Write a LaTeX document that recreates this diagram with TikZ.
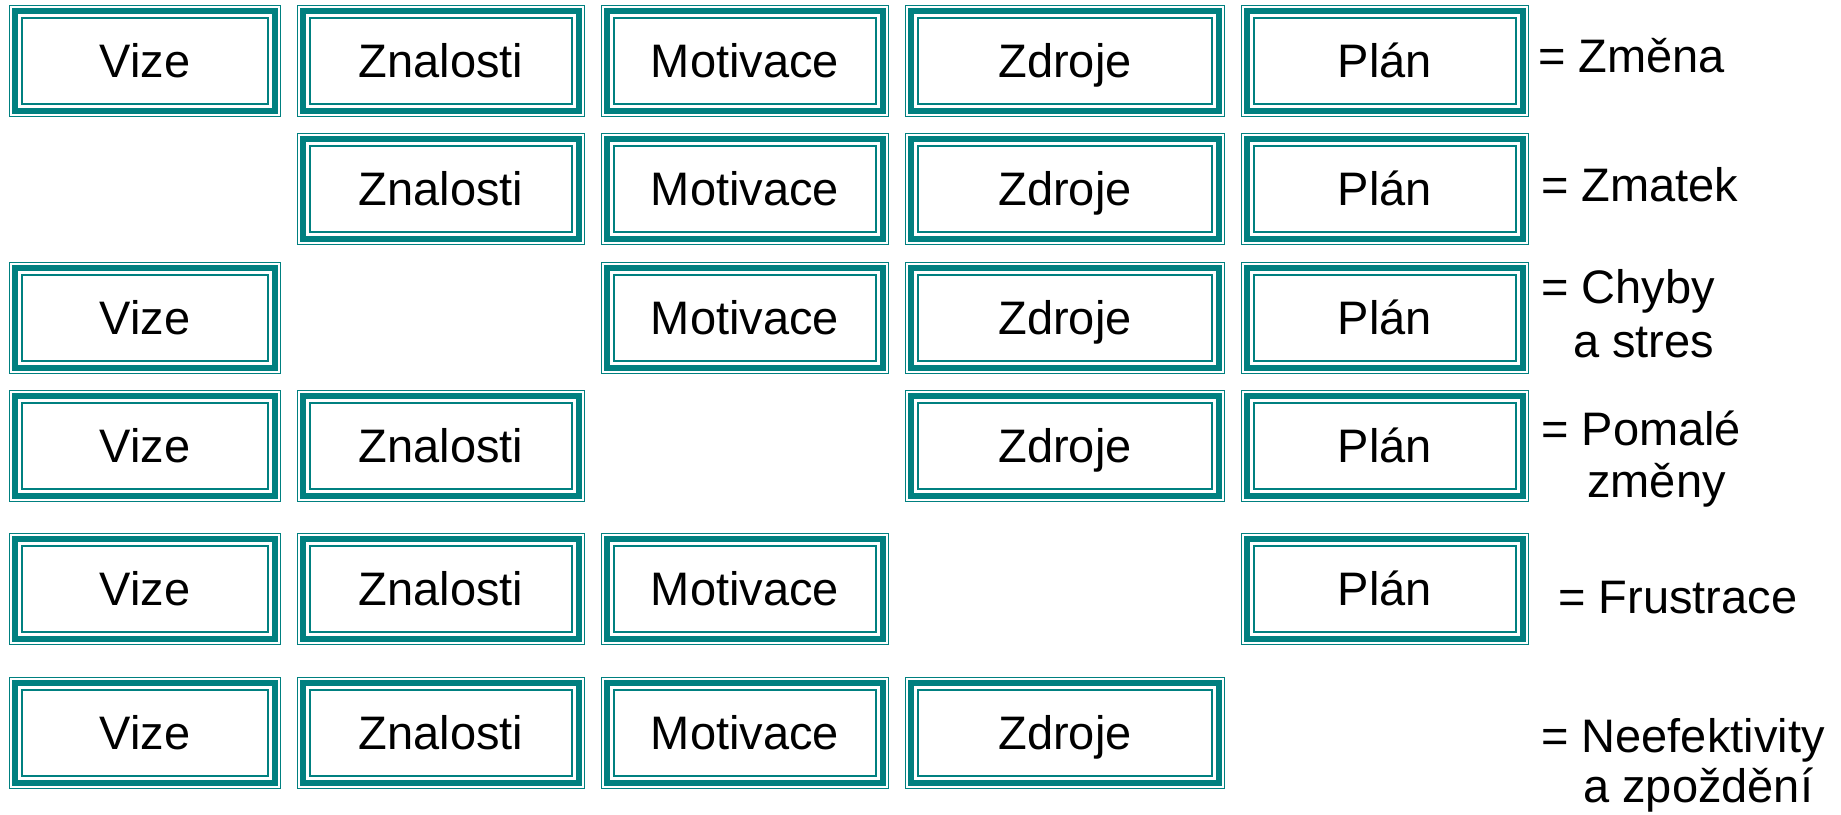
\documentclass[tikz,border=0pt]{standalone}
\usepackage{fontspec}
\setmainfont{Liberation Sans}
\definecolor{frameteal}{RGB}{0,128,128}
\newfontfamily\labfont{Liberation Sans}
\newcommand{\txtfont}{\labfont\fontsize{47}{56}\selectfont}
\tikzset{
  % box with a triple frame: thin outer line, thick middle line, thin inner line
  tribox/.style={
    minimum width=#1, minimum height=112pt, inner sep=0pt,
    text height=33.6pt, text depth=0pt, font=\txtfont,
    append after command={\pgfextra{%
      \let\tb\tikzlastnode
      \draw[frameteal, line width=1.6pt]
        ([shift={(0.8pt,-0.8pt)}]\tb.north west) rectangle ([shift={(-0.8pt,0.8pt)}]\tb.south east);
      \draw[frameteal, line width=6pt]
        ([shift={(6.6pt,-6.6pt)}]\tb.north west) rectangle ([shift={(-6.6pt,6.6pt)}]\tb.south east);
      \draw[frameteal, line width=2.4pt]
        ([shift={(13.4pt,-13.4pt)}]\tb.north west) rectangle ([shift={(-13.4pt,13.4pt)}]\tb.south east);
    }}
  },
  lab/.style={anchor=base west, inner sep=0pt, font=\txtfont}
}
\begin{document}
\begin{tikzpicture}[x=1pt, y=1pt]
\fill[white] (0,0) rectangle (1841,-814);
\useasboundingbox (0,0) rectangle (1841,-814);

% row 1
\node[tribox=272pt] (a1) at (145,-61) {Vize};
\node[tribox=288pt] (b1) at (441,-61) {Znalosti};
\node[tribox=288pt] (c1) at (745,-61) {Motivace};
\node[tribox=320pt] (d1) at (1065,-61) {Zdroje};
\node[tribox=288pt] (e1) at (1385,-61) {Plán};
\node[lab] (r1) at (1538,-72) {= Změna};

% row 2
\node[tribox=288pt] (b2) at (441,-189) {Znalosti};
\node[tribox=288pt] (c2) at (745,-189) {Motivace};
\node[tribox=320pt] (d2) at (1065,-189) {Zdroje};
\node[tribox=288pt] (e2) at (1385,-189) {Plán};
\node[lab] (r2) at (1541,-201) {= Zmatek};

% row 3
\node[tribox=272pt] (a3) at (145,-318) {Vize};
\node[tribox=288pt] (c3) at (745,-318) {Motivace};
\node[tribox=320pt] (d3) at (1065,-318) {Zdroje};
\node[tribox=288pt] (e3) at (1385,-318) {Plán};
\node[lab] (r3a) at (1541,-303) {= Chyby};
\node[lab] (r3b) at (1573,-357) {a stres};

% row 4
\node[tribox=272pt] (a4) at (145,-446) {Vize};
\node[tribox=288pt] (b4) at (441,-446) {Znalosti};
\node[tribox=320pt] (d4) at (1065,-446) {Zdroje};
\node[tribox=288pt] (e4) at (1385,-446) {Plán};
\node[lab] (r4a) at (1541,-445) {= Pomalé};
\node[lab] (r4b) at (1587,-497) {změny};

% row 5
\node[tribox=272pt] (a5) at (145,-589) {Vize};
\node[tribox=288pt] (b5) at (441,-589) {Znalosti};
\node[tribox=288pt] (c5) at (745,-589) {Motivace};
\node[tribox=288pt] (e5) at (1385,-589) {Plán};
\node[lab] (r5) at (1558,-613) {= Frustrace};

% row 6
\node[tribox=272pt] (a6) at (145,-733) {Vize};
\node[tribox=288pt] (b6) at (441,-733) {Znalosti};
\node[tribox=288pt] (c6) at (745,-733) {Motivace};
\node[tribox=320pt] (d6) at (1065,-733) {Zdroje};
\node[lab] (r6a) at (1541,-752) {= Neefektivity};
\node[lab] (r6b) at (1583,-802) {a zpoždění};
\end{tikzpicture}
\end{document}
